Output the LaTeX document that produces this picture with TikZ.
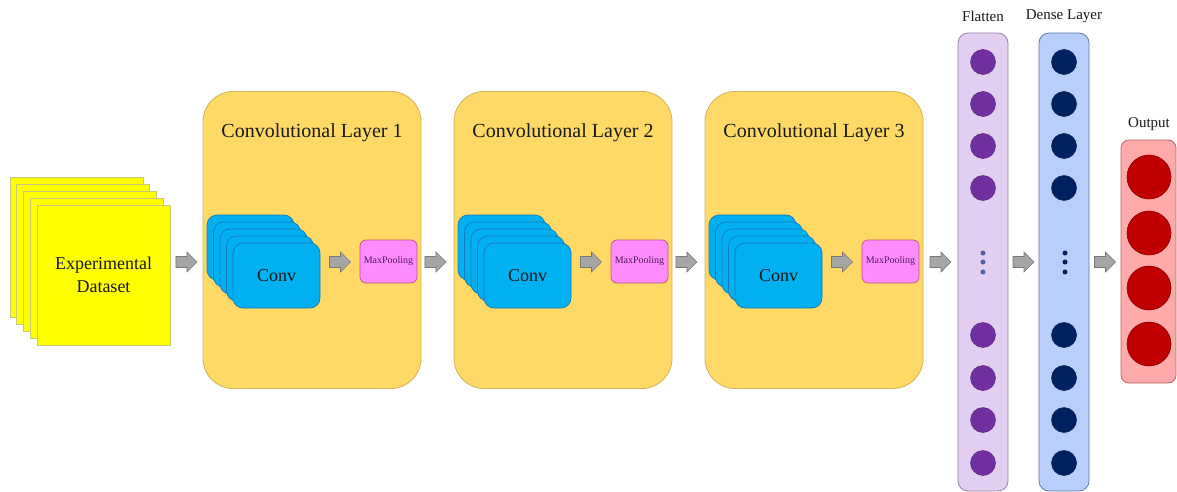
\documentclass[tikz,border=0pt]{standalone}
\usepackage{fontspec}
\setmainfont{Liberation Serif}
\usetikzlibrary{calc}

\definecolor{dsyellow}{RGB}{255,255,0}
\definecolor{sheetedge}{RGB}{200,200,120}
\definecolor{layerfill}{RGB}{255,217,102}
\definecolor{layeredge}{RGB}{210,178,90}
\definecolor{convblue}{RGB}{0,176,240}
\definecolor{cardedge}{RGB}{20,120,190}
\definecolor{poolfill}{RGB}{255,140,255}
\definecolor{pooledge}{RGB}{190,80,130}
\definecolor{pooltext}{RGB}{80,20,90}
\definecolor{flatfill}{RGB}{226,206,240}
\definecolor{flatedge}{RGB}{150,130,165}
\definecolor{flatunit}{RGB}{112,48,160}
\definecolor{flatdots}{RGB}{85,95,160}
\definecolor{densefill}{RGB}{183,207,250}
\definecolor{denseedge}{RGB}{100,120,165}
\definecolor{denseunit}{RGB}{0,32,96}
\definecolor{outfill}{RGB}{255,170,170}
\definecolor{outedge}{RGB}{190,95,95}
\definecolor{outunit}{RGB}{192,0,0}
\definecolor{outunitedge}{RGB}{140,0,0}
\definecolor{arrowgray}{RGB}{166,166,166}
\definecolor{arrowedge}{RGB}{120,120,120}
\definecolor{inktext}{RGB}{25,25,25}

% gray block arrow halfway between two nodes
\newcommand{\blockarrow}[2]{%
  \path ($(#1.east)!0.5!(#2.west)$) coordinate (ba-mid);
  \coordinate (ba-c) at (ba-mid |- 0,262);
  \draw[garrow, shift={(ba-c)}] (-10.5,-5.5) -- ++(11,0) -- ++(0,-4.5)
    -- ++(10,10) -- ++(-10,10) -- ++(0,-4.5) -- ++(-11,0) -- cycle;
}

\begin{document}
\begin{tikzpicture}[x=1pt,y=-1pt,
  every node/.style={text=inktext},
  sheet/.style={draw=sheetedge, fill=dsyellow, line width=0.6pt,
    minimum width=133pt, minimum height=140pt, inner sep=0pt},
  layerbox/.style={draw=layeredge, fill=layerfill, rounded corners=30pt,
    minimum width=218pt, minimum height=297pt, line width=0.8pt},
  layertitle/.style={font=\fontsize{20}{24}\selectfont},
  card/.style={draw=cardedge, fill=convblue, rounded corners=10pt,
    minimum width=87pt, minimum height=65pt, line width=0.7pt, inner sep=0pt},
  pool/.style={draw=pooledge, fill=poolfill, rounded corners=6pt,
    minimum width=57pt, minimum height=43pt, inner sep=0pt, line width=0.7pt,
    font=\fontsize{10}{12}\selectfont, text=pooltext},
  column/.style={rounded corners=10pt, minimum width=50pt,
    minimum height=458pt, line width=0.8pt},
  unit/.style={circle, minimum size=25pt, inner sep=0pt, line width=0.5pt},
  dot/.style={circle, minimum size=5pt, inner sep=0pt},
  bigunit/.style={circle, minimum size=44pt, inner sep=0pt, line width=0.6pt,
    fill=outunit, draw=outunitedge},
  caption/.style={font=\fontsize{15}{18}\selectfont},
  garrow/.style={fill=arrowgray, draw=arrowedge, line width=0.6pt}]

\useasboundingbox (0,0) rectangle (1177,492);

% input data: a stack of sheets
\foreach \k in {0,...,3}
  \node[sheet] (ds\k) at ({76.5+6.75*\k},{247+7*\k}) {};
\node[sheet, align=center, font=\fontsize{18}{23}\selectfont]
  (ds) at (103.5,275) {Experimental\\Dataset};

% three convolutional blocks
\foreach \i/\dx in {1/0,2/251,3/502}{
  \node[layerbox] (L\i) at ({312+\dx},240) {};
  \node[layertitle] (t\i) at ({312+\dx},133) {Convolutional Layer \i};
  \foreach \k in {0,...,3}
    \node[card] (c\i-\k) at ({250.5+\dx+6.5*\k},{247.5+7*\k}) {};
  \node[card, font=\fontsize{18}{22}\selectfont] (conv\i)
    at ({276.5+\dx},275.5) {Conv};
  \node[pool] (mp\i) at ({388.5+\dx},261.5) {MaxPooling};
  \blockarrow{conv\i}{mp\i}
}

% flatten column
\node[column, draw=flatedge, fill=flatfill] (flat) at (983,262) {};
\node[caption] (flatlbl) at (983,16) {Flatten};
\foreach \y [count=\n] in {62,104,146,188,335,378,420,463}
  \node[unit, fill=flatunit, draw=flatunit!80!black] (f\n) at (983,\y) {};
\foreach \y [count=\n] in {253,262,272}
  \node[dot, fill=flatdots] (fd\n) at (983,\y) {};

% dense column
\node[column, draw=denseedge, fill=densefill] (dense) at (1064,262) {};
\node[caption] (denselbl) at (1064,16) {Dense Layer};
\foreach \y [count=\n] in {62,104,146,188,335,378,420,463}
  \node[unit, fill=denseunit, draw=denseunit!80!black] (d\n) at (1064,\y) {};
\foreach \y [count=\n] in {253,262,272}
  \node[dot, fill=denseunit] (dd\n) at (1065,\y) {};

% output column
\node[draw=outedge, fill=outfill, rounded corners=8pt, minimum width=55pt,
  minimum height=243pt, line width=0.8pt] (out) at (1148.5,261.5) {};
\node[caption] (outlbl) at (1149,124) {Output};
\foreach \y [count=\n] in {177,233,288,344}
  \node[bigunit] (o\n) at (1149,\y) {};

% connections between stages
\blockarrow{ds}{L1}
\blockarrow{mp1}{L2}
\blockarrow{mp2}{L3}
\blockarrow{L3}{flat}
\blockarrow{flat}{dense}
\blockarrow{dense}{out}

\end{tikzpicture}
\end{document}
